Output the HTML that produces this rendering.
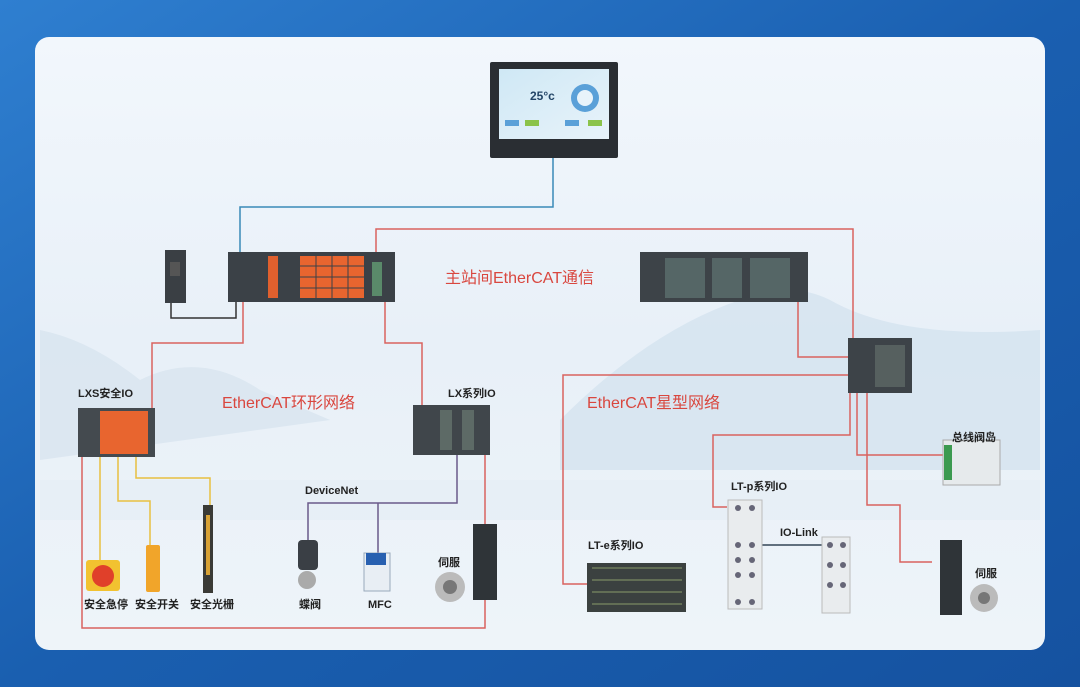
<!DOCTYPE html>
<html><head><meta charset="utf-8"><style>
html,body{margin:0;padding:0;width:1080px;height:687px;overflow:hidden;background:#1d63b0;}
svg{display:block}
text{font-family:"Liberation Sans","Noto Sans CJK SC",sans-serif;}
</style></head><body>
<svg width="1080" height="687" viewBox="0 0 1080 687" xmlns="http://www.w3.org/2000/svg">
<defs>
<linearGradient id="bg" x1="0" y1="0" x2="1" y2="1">
<stop offset="0" stop-color="#2f7fd0"/><stop offset="0.5" stop-color="#1a5fb0"/><stop offset="1" stop-color="#1552a0"/></linearGradient>
<linearGradient id="pn" x1="0" y1="0" x2="0" y2="1">
<stop offset="0" stop-color="#f2f7fc"/><stop offset="0.5" stop-color="#e8f0f8"/><stop offset="1" stop-color="#eef4f9"/></linearGradient>
<linearGradient id="scr" x1="0" y1="0" x2="1" y2="1"><stop offset="0" stop-color="#cfe8f5"/><stop offset="1" stop-color="#e8f3fa"/></linearGradient>
</defs>
<rect width="1080" height="687" fill="url(#bg)"/>
<rect x="35" y="37" width="1010" height="613" rx="14" fill="url(#pn)"/>
<path d="M40 330 Q90 340 140 380 Q200 350 260 390 L330 420 L40 460Z" fill="#d5e2ee" opacity="0.7"/>
<path d="M560 420 Q650 330 740 300 Q790 280 830 300 Q900 340 1040 330 L1040 470 L560 470Z" fill="#d2e1ee" opacity="0.7"/>
<path d="M40 480 L1040 480 L1040 520 L40 520Z" fill="#e4edf5" opacity="0.6"/>

<rect x="490" y="62" width="128" height="96" rx="2" fill="#2a2e33"/>
<rect x="499" y="69" width="110" height="70" fill="url(#scr)"/>
<text x="530" y="100" font-size="12" font-weight="bold" fill="#246">25°c</text>
<circle cx="585" cy="98" r="14" fill="#5aa0d8"/><circle cx="585" cy="98" r="8" fill="#e8f3fa"/>
<rect x="505" y="120" width="14" height="6" fill="#5aa0d8"/><rect x="525" y="120" width="14" height="6" fill="#8bc34a"/><rect x="565" y="120" width="14" height="6" fill="#5aa0d8"/><rect x="588" y="120" width="14" height="6" fill="#8bc34a"/>

<g fill="none" stroke-width="1.5">
<polyline points="553,158 553,207 240,207 240,252" stroke="#3a8ab8"/>
<polyline points="171,303 171,318 236,318 236,302" stroke="#333"/>
<polyline points="376,252 376,229 853,229 853,340" stroke="#d9625f"/>
<polyline points="798,302 798,357 848,357" stroke="#d9625f"/>
<polyline points="243,302 243,343 152,343 152,408" stroke="#d9625f"/>
<polyline points="385,302 385,343 422,343 422,405" stroke="#d9625f"/>
<polyline points="82,457 82,628 485,628 485,600" stroke="#d9625f"/>
<polyline points="485,524 485,455" stroke="#d9625f"/>
<polyline points="100,457 100,560" stroke="#e8c040"/>
<polyline points="118,457 118,501 150,501 150,545" stroke="#e8c040"/>
<polyline points="136,457 136,478 210,478 210,505" stroke="#e8c040"/>
<polyline points="457,455 457,503 308,503 308,540" stroke="#6a5a8a"/>
<polyline points="378,503 378,553" stroke="#6a5a8a"/>
<polyline points="848,375 563,375 563,584 588,584" stroke="#d9625f"/>
<polyline points="850,393 850,435 713,435 713,507 727,507" stroke="#d9625f"/>
<polyline points="857,393 857,455 944,455" stroke="#d9625f"/>
<polyline points="867,393 867,505 900,505 900,562 932,562" stroke="#d9625f"/>
<polyline points="750,545 822,545" stroke="#345"/>
</g>

<rect x="165" y="250" width="21" height="53" fill="#3a3f44"/><rect x="170" y="262" width="10" height="14" fill="#555"/>
<rect x="228" y="252" width="167" height="50" fill="#3b4147"/>
<rect x="268" y="256" width="10" height="42" fill="#e0602e"/>
<rect x="300" y="256" width="64" height="42" fill="#e8652f"/>
<g stroke="#3b4147" stroke-width="1"><line x1="300" y1="266" x2="364" y2="266"/><line x1="300" y1="277" x2="364" y2="277"/><line x1="300" y1="288" x2="364" y2="288"/><line x1="316" y1="256" x2="316" y2="298"/><line x1="332" y1="256" x2="332" y2="298"/><line x1="348" y1="256" x2="348" y2="298"/></g>
<rect x="372" y="262" width="10" height="34" fill="#5a8a6a"/>
<rect x="640" y="252" width="168" height="50" fill="#3d4348"/>
<g fill="#566"><rect x="665" y="258" width="40" height="40"/><rect x="712" y="258" width="30" height="40"/><rect x="750" y="258" width="40" height="40"/></g>
<rect x="848" y="338" width="64" height="55" fill="#3d4348"/><rect x="875" y="345" width="30" height="42" fill="#56605f"/>
<rect x="78" y="408" width="77" height="49" fill="#444a4f"/><rect x="100" y="411" width="48" height="43" fill="#e8652f"/>
<rect x="413" y="405" width="77" height="50" fill="#40464b"/><rect x="440" y="410" width="12" height="40" fill="#5d6a66"/><rect x="462" y="410" width="12" height="40" fill="#5d6a66"/>
<rect x="86" y="560" width="34" height="31" rx="3" fill="#f2c230"/><circle cx="103" cy="576" r="11" fill="#e0402a"/>
<rect x="146" y="545" width="14" height="47" rx="2" fill="#f1a52a"/>
<rect x="203" y="505" width="10" height="88" fill="#3a3a36"/><rect x="206" y="515" width="4" height="60" fill="#d8a235"/>
<rect x="298" y="540" width="20" height="30" rx="4" fill="#3a3f45"/><circle cx="307" cy="580" r="9" fill="#aaa"/>
<rect x="364" y="553" width="26" height="38" fill="#e8eef4" stroke="#9ab" /><rect x="366" y="553" width="20" height="12" fill="#2860b0"/>
<rect x="473" y="524" width="24" height="76" fill="#2f3438"/>
<circle cx="450" cy="587" r="15" fill="#bbb"/><circle cx="450" cy="587" r="7" fill="#777"/>
<rect x="587" y="563" width="99" height="49" fill="#3b4140"/><g stroke="#8a9a6a" stroke-width="1"><line x1="592" y1="568" x2="682" y2="568"/><line x1="592" y1="580" x2="682" y2="580"/><line x1="592" y1="592" x2="682" y2="592"/><line x1="592" y1="604" x2="682" y2="604"/></g>
<rect x="728" y="500" width="34" height="109" fill="#e9ecee" stroke="#bbb"/>
<g fill="#667"><circle cx="738" cy="508" r="3"/><circle cx="752" cy="508" r="3"/><circle cx="738" cy="545" r="3"/><circle cx="752" cy="545" r="3"/><circle cx="738" cy="560" r="3"/><circle cx="752" cy="560" r="3"/><circle cx="738" cy="575" r="3"/><circle cx="752" cy="575" r="3"/><circle cx="738" cy="602" r="3"/><circle cx="752" cy="602" r="3"/></g>
<rect x="822" y="537" width="28" height="76" fill="#e9ecee" stroke="#bbb"/>
<g fill="#667"><circle cx="830" cy="545" r="3"/><circle cx="843" cy="545" r="3"/><circle cx="830" cy="565" r="3"/><circle cx="843" cy="565" r="3"/><circle cx="830" cy="585" r="3"/><circle cx="843" cy="585" r="3"/></g>
<rect x="943" y="440" width="57" height="45" fill="#e6eaec" stroke="#aaa"/><rect x="944" y="445" width="8" height="35" fill="#3c9a50"/>
<rect x="940" y="540" width="22" height="75" fill="#2f3438"/>
<circle cx="984" cy="598" r="14" fill="#bbb"/><circle cx="984" cy="598" r="6" fill="#777"/>

<text x="445" y="283" font-size="16" fill="#d9473f">主站间EtherCAT通信</text>
<text x="222" y="408" font-size="16" fill="#d9473f">EtherCAT环形网络</text>
<text x="587" y="408" font-size="16" fill="#d9473f">EtherCAT星型网络</text>
<g font-size="11" fill="#222" font-weight="bold">
<text x="78" y="397">LXS安全IO</text>
<text x="448" y="397">LX系列IO</text>
<text x="305" y="494">DeviceNet</text>
<text x="84" y="608">安全急停</text>
<text x="135" y="608">安全开关</text>
<text x="190" y="608">安全光栅</text>
<text x="299" y="608">蝶阀</text>
<text x="368" y="608">MFC</text>
<text x="438" y="566">伺服</text>
<text x="588" y="549">LT-e系列IO</text>
<text x="731" y="490">LT-p系列IO</text>
<text x="780" y="536">IO-Link</text>
<text x="952" y="441">总线阀岛</text>
<text x="975" y="577">伺服</text>
</g>
</svg>
</body></html>
